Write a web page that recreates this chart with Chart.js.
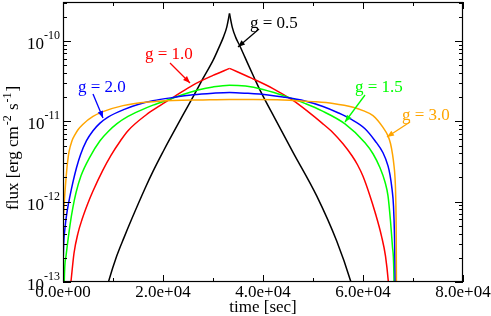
<!DOCTYPE html>
<html><head><meta charset="utf-8">
<script src="https://cdn.jsdelivr.net/npm/chart.js@4.4.1/dist/chart.umd.min.js"></script>
<style>html,body{margin:0;padding:0;background:#fff;}canvas{display:block;}</style>
</head><body>
<canvas id="c" width="491" height="316"></canvas>
<script>
// ---- data ----
const seriesNames = ['g = 0.5', 'g = 1.0', 'g = 1.5', 'g = 2.0', 'g = 3.0'];

const g05Time = [8600, 9060, 10740, 12200, 13740, 16400, 18000, 20060, 21400, 24000, 26060, 28000, 30060, 31200, 32060, 32740, 33300, 33860, 34540, 35400, 36400, 38400, 39400, 42400, 46060, 50740, 54740, 57540, 57800];
const g05Flux = [7.76e-14, 9.9e-14, 2.1e-13, 3.57e-13, 6.08e-13, 1.46e-12, 2.38e-12, 4.24e-12, 6.08e-12, 1.2e-11, 2.04e-11, 3.42e-11, 5.82e-11, 8.34e-11, 1.11e-10, 1.48e-10, 2.2e-10, 1.48e-10, 1.11e-10, 8.6e-11, 6.25e-11, 3.32e-11, 2.45e-11, 1.08e-11, 4.06e-12, 1.18e-12, 3.23e-13, 1.02e-13, 8.9e-14];

const g10Time = [1200, 1600, 2200, 3000, 3800, 5000, 6000, 8000, 9600, 11500, 13000, 16600, 19400, 22000, 26000, 30000, 33300, 37600, 42000, 46000, 49000, 51700, 54000, 56000, 57800, 58900, 60000, 61400, 62400, 63700, 64500, 65060, 65400];
const g10Flux = [6e-14, 1.02e-13, 2.28e-13, 4.06e-13, 5.99e-13, 9.64e-13, 1.36e-12, 2.49e-12, 3.78e-12, 5.74e-12, 7.65e-12, 1.2e-11, 1.57e-11, 1.98e-11, 2.83e-11, 3.73e-11, 4.56e-11, 3.47e-11, 2.56e-11, 1.82e-11, 1.32e-11, 9.64e-12, 7.23e-12, 5.26e-12, 3.73e-12, 2.88e-12, 2.07e-12, 1.18e-12, 7.43e-13, 3.73e-13, 2.1e-13, 1.02e-13, 4.97e-14];

const g15Time = [100, 250, 600, 1400, 2000, 2600, 3600, 5400, 7400, 9000, 10800, 13000, 15400, 18000, 21400, 24000, 27000, 30000, 33300, 36500, 40000, 45000, 48500, 51700, 56400, 60400, 62000, 63400, 64400, 65000, 65500, 65900, 66200, 66300];
const g15Flux = [1e-14, 9.9e-14, 2.1e-13, 5.11e-13, 8.59e-13, 1.29e-12, 2.1e-12, 3.62e-12, 5.74e-12, 7.43e-12, 9.36e-12, 1.15e-11, 1.36e-11, 1.59e-11, 1.89e-11, 2.16e-11, 2.45e-11, 2.68e-11, 2.82e-11, 2.75e-11, 2.49e-11, 2.0e-11, 1.66e-11, 1.36e-11, 9.3e-12, 5.42e-12, 3.95e-12, 2.64e-12, 1.76e-12, 1.18e-12, 5.74e-13, 2.72e-13, 1.02e-13, 1e-14];

const g20Time = [-100, 0, 100, 400, 900, 1400, 2000, 2700, 3500, 4700, 6000, 7400, 9000, 12400, 15000, 18000, 22000, 26000, 30000, 33300, 37000, 41000, 44000, 48400, 52000, 55000, 57400, 60400, 62400, 64000, 65000, 65400, 65800, 66100, 66300, 66440, 66520];
const g20Flux = [1e-14, 1.2e-13, 2.5e-13, 4.7e-13, 8.1e-13, 1.18e-12, 1.76e-12, 2.64e-12, 3.84e-12, 5.74e-12, 7.65e-12, 9.5e-12, 1.13e-11, 1.42e-11, 1.62e-11, 1.8e-11, 1.98e-11, 2.14e-11, 2.24e-11, 2.29e-11, 2.23e-11, 2.13e-11, 2.01e-11, 1.79e-11, 1.53e-11, 1.28e-11, 1.08e-11, 8.1e-12, 5.74e-12, 4.06e-12, 2.79e-12, 2.16e-12, 1.44e-12, 8.84e-13, 3.73e-13, 1.02e-13, 5e-14];

const g30Time = [-150, 0, 150, 300, 500, 700, 900, 1200, 1800, 2400, 3000, 4000, 6000, 8000, 12000, 17000, 22000, 28000, 33300, 38000, 44000, 50000, 54000, 58000, 60000, 62000, 63000, 64000, 65000, 65500, 65900, 66200, 66400, 66550, 66650, 66750];
const g30Flux = [1e-14, 4.3e-13, 7.22e-13, 1.08e-12, 1.62e-12, 2.29e-12, 3.05e-12, 4.18e-12, 5.74e-12, 6.83e-12, 7.87e-12, 9.22e-12, 1.15e-11, 1.32e-11, 1.57e-11, 1.74e-11, 1.82e-11, 1.85e-11, 1.87e-11, 1.87e-11, 1.85e-11, 1.76e-11, 1.67e-11, 1.5e-11, 1.36e-11, 1.18e-11, 1.02e-11, 8.4e-12, 6.6e-12, 5.3e-12, 3.9e-12, 2.8e-12, 2.0e-12, 1.1e-12, 3.5e-13, 1e-14];

const xTickValues = [0, 20000, 40000, 60000, 80000];
const xTickLabels = ['0.0e+00', '2.0e+04', '4.0e+04', '6.0e+04', '8.0e+04'];
const xMinorTicks = [10000, 30000, 50000, 70000];
const yTickValues = [1e-13, 1e-12, 1e-11, 1e-10];
const yTickExponents = ['-13', '-12', '-11', '-10'];
const xTitle = 'time [sec]';

// ---- chart ----
const colors = ['#000000', '#ff0000', '#00ff00', '#0000ff', '#ffa500'];
const times = [g05Time, g10Time, g15Time, g20Time, g30Time];
const fluxes = [g05Flux, g10Flux, g15Flux, g20Flux, g30Flux];
const cuspy = [true, true, false, false, false]; // sharp peak: draw rising and falling halves separately

function mkSet(i, from, to) {
  const d = [];
  for (let j = from; j <= to; j++) d.push({x: times[i][j], y: fluxes[i][j]});
  return {
    label: seriesNames[i], data: d, borderColor: colors[i], borderWidth: 1.5,
    pointRadius: 0, cubicInterpolationMode: 'monotone', fill: false, clip: 0
  };
}
const datasets = [];
for (let i = seriesNames.length - 1; i >= 0; i--) {
  const n = times[i].length;
  if (cuspy[i]) {
    const f = fluxes[i];
    const pk = f.indexOf(Math.max(...f));
    datasets.push(mkSet(i, 0, pk), mkSet(i, pk, n - 1));
  } else {
    datasets.push(mkSet(i, 0, n - 1));
  }
}

const SERIF = '"Liberation Serif", "Times New Roman", serif';

// label annotations: text position (left, baseline) and arrow (from -> to), in pixels
const notes = [
  {i: 0, tx: 250, ty: 28, ax: 259, ay: 29, bx: 238, by: 47},
  {i: 1, tx: 145, ty: 59, ax: 170, ay: 63, bx: 190, by: 83},
  {i: 2, tx: 355, ty: 92, ax: 365, ay: 95, bx: 345, by: 122},
  {i: 3, tx: 78, ty: 92, ax: 93, ay: 94, bx: 103, by: 118},
  {i: 4, tx: 402, ty: 120, ax: 410, ay: 122, bx: 387, by: 137}
];

function arrow(ctx, x1, y1, x2, y2, col) {
  ctx.strokeStyle = col; ctx.fillStyle = col; ctx.lineWidth = 1.3;
  ctx.beginPath(); ctx.moveTo(x1, y1); ctx.lineTo(x2, y2); ctx.stroke();
  const ang = Math.atan2(y2 - y1, x2 - x1), L = 7, W = 2.8;
  ctx.beginPath();
  ctx.moveTo(x2, y2);
  ctx.lineTo(x2 - L * Math.cos(ang) + W * Math.sin(ang), y2 - L * Math.sin(ang) - W * Math.cos(ang));
  ctx.lineTo(x2 - L * Math.cos(ang) - W * Math.sin(ang), y2 - L * Math.sin(ang) + W * Math.cos(ang));
  ctx.closePath(); ctx.fill();
}

const decor = {
  id: 'decor',
  afterDraw(chart) {
    const {ctx, chartArea: a, scales: {x, y}} = chart;
    ctx.save();
    ctx.strokeStyle = '#000'; ctx.lineWidth = 1.2;
    ctx.strokeRect(a.left + 0.5, a.top + 0.5, a.right - a.left - 1, a.bottom - a.top - 1);
    ctx.lineWidth = 1;
    ctx.beginPath();
    xTickValues.forEach(v => {
      const px = Math.round(x.getPixelForValue(v)) + 0.5;
      ctx.moveTo(px, a.bottom); ctx.lineTo(px, a.bottom - 7);
      ctx.moveTo(px, a.top); ctx.lineTo(px, a.top + 7);
    });
    xMinorTicks.forEach(v => {
      const px = Math.round(x.getPixelForValue(v)) + 0.5;
      ctx.moveTo(px, a.bottom); ctx.lineTo(px, a.bottom - 4);
      ctx.moveTo(px, a.top); ctx.lineTo(px, a.top + 4);
    });
    yTickValues.forEach(v => {
      const py = Math.round(y.getPixelForValue(v)) + 0.5;
      ctx.moveTo(a.left, py); ctx.lineTo(a.left + 8, py);
      ctx.moveTo(a.right, py); ctx.lineTo(a.right - 8, py);
      for (let m = 2; m <= 9; m++) {
        const mv = v * m;
        if (mv > y.max) break;
        const pm = Math.round(y.getPixelForValue(mv)) + 0.5;
        ctx.moveTo(a.left, pm); ctx.lineTo(a.left + 4, pm);
        ctx.moveTo(a.right, pm); ctx.lineTo(a.right - 4, pm);
      }
    });
    ctx.stroke();

    ctx.fillStyle = '#000';
    ctx.font = '17px ' + SERIF; ctx.textAlign = 'center'; ctx.textBaseline = 'alphabetic';
    xTickValues.forEach((v, i) => ctx.fillText(xTickLabels[i], x.getPixelForValue(v), 297));
    ctx.fillText(xTitle, (a.left + a.right) / 2, 312);
    yTickValues.forEach((v, i) => {
      const py = y.getPixelForValue(v);
      ctx.font = '12px ' + SERIF; ctx.textAlign = 'right';
      const sw = ctx.measureText(yTickExponents[i]).width;
      ctx.fillText(yTickExponents[i], a.left - 3, py - 2);
      ctx.font = '17px ' + SERIF;
      ctx.fillText('10', a.left - 3 - sw, py + 8);
    });
    ctx.save();
    ctx.translate(18, 210); ctx.rotate(-Math.PI / 2);
    ctx.textAlign = 'left';
    let p = 0;
    const parts = [['flux [erg cm', 0, 17], ['-2', -7, 12], [' s', 0, 17], ['-1', -7, 12], [']', 0, 17]];
    parts.forEach(([s, dy, fs]) => {
      ctx.font = fs + 'px ' + SERIF;
      if (fs < 17) p += 1;
      ctx.fillText(s, p, dy);
      p += ctx.measureText(s).width;
      if (fs < 17) p += 1;
    });
    ctx.restore();

    notes.forEach(n => {
      const col = colors[n.i];
      ctx.fillStyle = col; ctx.font = '17px ' + SERIF; ctx.textAlign = 'left';
      ctx.fillText(seriesNames[n.i], n.tx, n.ty);
      arrow(ctx, n.ax, n.ay, n.bx, n.by, col);
    });
    ctx.restore();
  }
};

new Chart(document.getElementById('c'), {
  type: 'line',
  data: {datasets},
  options: {
    responsive: false,
    animation: false,
    devicePixelRatio: 1,
    layout: {padding: {left: 0, right: 28, top: 2, bottom: 0}},
    plugins: {legend: {display: false}, tooltip: {enabled: false}},
    scales: {
      x: {type: 'linear', min: 0, max: 80000,
          grid: {display: false}, border: {display: false}, ticks: {display: false},
          afterFit(s) { s.height = 34; }},
      y: {type: 'logarithmic', min: 1e-13, max: 3.06e-10,
          grid: {display: false}, border: {display: false}, ticks: {display: false},
          afterFit(s) { s.width = 63; }}
    }
  },
  plugins: [decor]
});
</script>
</body></html>
